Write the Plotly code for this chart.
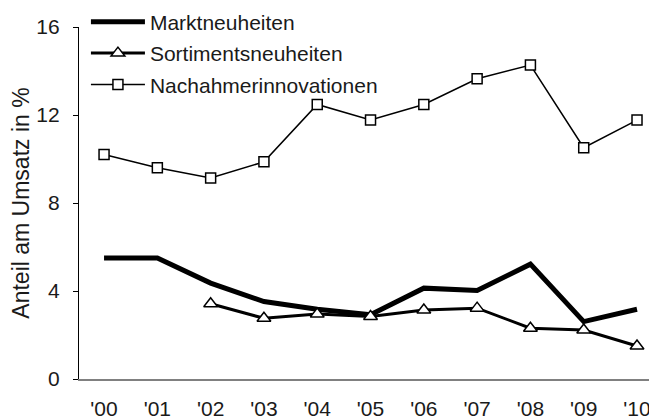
import plotly.graph_objects as go

years = ["'00", "'01", "'02", "'03", "'04", "'05", "'06", "'07", "'08", "'09", "'10"]
markt = [5.50, 5.50, 4.36, 3.52, 3.17, 2.92, 4.13, 4.02, 5.22, 2.61, 3.17]
sortiment = [None, None, 3.42, 2.76, 2.95, 2.84, 3.14, 3.22, 2.31, 2.23, 1.50]
nachahmer = [10.20, 9.60, 9.14, 9.87, 12.48, 11.77, 12.48, 13.65, 14.27, 10.51, 11.77]
y_ticks = [0, 4, 8, 12, 16]

xi = list(range(len(years)))
fig = go.Figure()
fig.add_trace(go.Scatter(x=xi, y=markt, mode="lines", name="Marktneuheiten",
                         line=dict(color="black", width=5), legendgroup="a"))
fig.add_trace(go.Scatter(x=xi, y=sortiment, mode="lines+markers", name="Sortimentsneuheiten",
                         line=dict(color="black", width=3), legendgroup="b",
                         marker=dict(symbol="triangle-up", size=12, color="white",
                                     line=dict(color="black", width=1.5))))
fig.add_trace(go.Scatter(x=xi, y=nachahmer, mode="lines+markers", name="Nachahmerinnovationen",
                         line=dict(color="black", width=1.5), legendgroup="c",
                         marker=dict(symbol="square", size=10, color="white",
                                     line=dict(color="black", width=1.5))))

fig.update_layout(
    width=649, height=411,
    margin=dict(l=71, r=0, t=19, b=40, autoexpand=False),
    paper_bgcolor="white", plot_bgcolor="white",
    font=dict(family="Liberation Sans, Arial, sans-serif", size=21, color="#1a1a1a"),
    showlegend=True,
    legend=dict(x=0.012, y=1.072, xanchor="left", yanchor="top", bgcolor="rgba(0,0,0,0)",
                font=dict(size=21), itemwidth=54, tracegroupgap=1),
    xaxis=dict(range=[-0.47, 10.375], tickmode="array", tickvals=xi, ticktext=years,
               showgrid=False, zeroline=False, showline=True, linecolor="#808080", linewidth=1.5,
               ticks="outside", ticklen=10, tickcolor="rgba(0,0,0,0)", automargin=False),
    yaxis=dict(range=[0, 16], tickmode="array", tickvals=y_ticks, showgrid=False, zeroline=False,
               showline=True, linecolor="black", linewidth=1.2, ticks="outside", ticklen=5,
               tickcolor="black", ticklabelstandoff=9, automargin=False,
               title=dict(text="Anteil am Umsatz in %", font=dict(size=23), standoff=2)),
)
fig.write_html("out.html")
